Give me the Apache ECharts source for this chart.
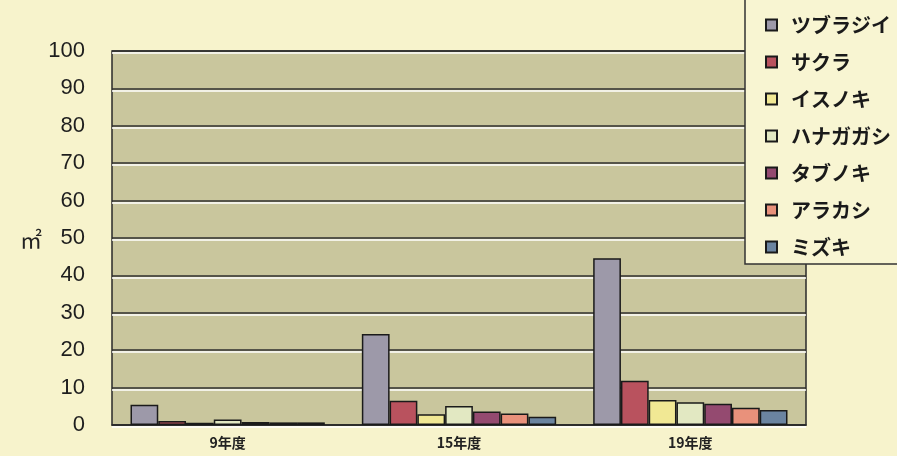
<!DOCTYPE html>
<html>
<head>
<meta charset="utf-8">
<script src="https://cdn.jsdelivr.net/npm/echarts@6/dist/echarts.min.js"></script>
<style>
html,body{margin:0;padding:0;background:#f7f3cc;}
#c{width:897px;height:456px;}
</style>
</head>
<body>
<div id="c"></div>
<script>
const categories = ['9年度', '15年度', '19年度'];
const seriesNames = ['ツブラジイ', 'サクラ', 'イスノキ', 'ハナガガシ', 'タブノキ', 'アラカシ', 'ミズキ'];
const tsuburajii = [5.4, 24.3, 44.6];
const sakura = [1.1, 6.5, 11.8];
const isunoki = [0.6, 2.9, 6.7];
const hanagagashi = [1.5, 5.1, 6.1];
const tabunoki = [0.8, 3.6, 5.7];
const arakashi = [0.7, 3.1, 4.6];
const mizuki = [0.7, 2.2, 4.0];
const yTicks = [0, 10, 20, 30, 40, 50, 60, 70, 80, 90, 100];
const unitLabel = '㎡';

const values = [tsuburajii, sakura, isunoki, hanagagashi, tabunoki, arakashi, mizuki];
const colors = ['#9d99a9', '#b9525e', '#f1e894', '#e2e8c2', '#944a70', '#e9917b', '#6b84a0'];

const chart = echarts.init(document.getElementById('c'));
chart.setOption({
  backgroundColor: '#f7f3cc',
  animation: false,
  grid: {
    left: 112, top: 51, right: 91, bottom: 31,
    show: true, backgroundColor: '#c9c69d', borderColor: '#2a2a2a', borderWidth: 1.5
  },
  legend: {
    orient: 'vertical',
    left: 745, top: -2,
    padding: [17, 30, 7, 20],
    backgroundColor: '#f8f5d2',
    borderColor: '#333',
    borderWidth: 1.5,
    itemWidth: 11, itemHeight: 11,
    itemGap: 17,
    icon: 'rect',
    textStyle: {
      fontFamily: '"Noto Sans CJK JP", sans-serif',
      fontSize: 20, fontWeight: 'bold', color: '#1a1a1a',
      lineHeight: 20, padding: [0, 0, 0, 9]
    },
    data: seriesNames
  },
  graphic: [{
    type: 'text', left: 20, top: 229,
    style: { text: unitLabel, fontSize: 22, fontFamily: '"Noto Sans CJK JP", sans-serif', fill: '#222' }
  }],
  xAxis: {
    type: 'category',
    data: categories,
    axisLine: { show: true, lineStyle: { color: '#2a2a2a', width: 1.5 } },
    axisTick: { show: false },
    axisLabel: {
      margin: 11, fontSize: 14, fontWeight: 'bold', color: '#222',
      fontFamily: '"Noto Sans CJK JP", sans-serif'
    }
  },
  yAxis: {
    type: 'value',
    min: yTicks[0], max: yTicks[yTicks.length - 1], interval: 10,
    axisLine: { show: false },
    axisTick: { show: false },
    axisLabel: {
      margin: 27, fontSize: 22, color: '#1e1e1e',
      fontFamily: '"Liberation Sans", Arial, sans-serif'
    },
    splitLine: {
      lineStyle: { color: '#2e2e2e', width: 1.5, shadowColor: '#ffffff', shadowOffsetY: 2, shadowBlur: 0 }
    }
  },
  series: seriesNames.map((n, i) => ({
    name: n,
    type: 'bar',
    data: values[i],
    barGap: '0%',
    barCategoryGap: '16%',
    itemStyle: { color: colors[i], borderColor: '#1a1a1a', borderWidth: 1.5 }
  }))
});
</script>
</body>
</html>
